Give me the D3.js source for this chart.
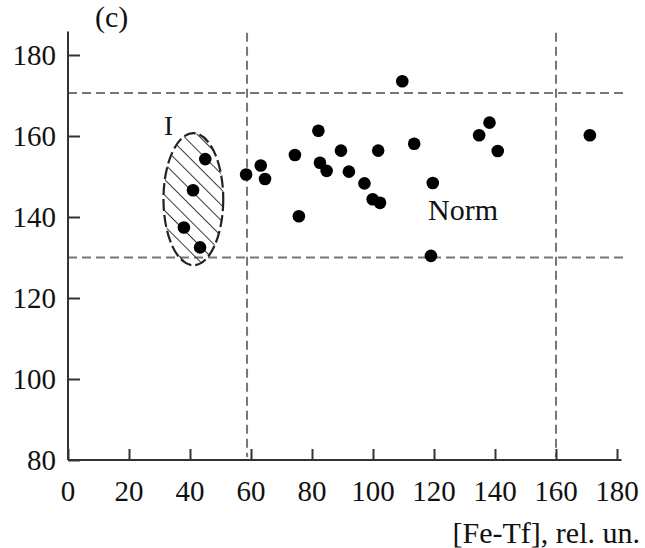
<!DOCTYPE html>
<html>
<head>
<meta charset="utf-8">
<script src="https://cdn.jsdelivr.net/npm/d3@7"></script>
<style>
  body { margin: 0; background: #fff; }
  svg text { font-family: "Liberation Serif", "Times New Roman", serif; fill: #111; }
</style>
</head>
<body>
<div id="plot"></div>
<script>
// Points: [Fe-Tf] (x) vs second parameter (y)
const feTf = [45, 41, 38, 43.3, 58.4, 63.2, 64.6, 74.4, 75.7, 82.1, 82.6, 84.8,
              89.5, 92.1, 97.2, 99.9, 102.3, 101.7, 109.6, 113.5, 119.6, 119, 134.8, 138.2, 140.9, 171.1];
const yVals = [154.3, 146.6, 137.4, 132.5, 150.5, 152.7, 149.4, 155.3, 140.2, 161.3, 153.4, 151.4,
               156.4, 151.2, 148.3, 144.4, 143.5, 156.4, 173.5, 158.1, 148.4, 130.4, 160.2, 163.3, 156.3, 160.2];

const xTicks = [0, 20, 40, 60, 80, 100, 120, 140, 160, 180];
const yTicks = [80, 100, 120, 140, 160, 180];

// norm boundaries (dashed lines)
const normX = [58.7, 160];
const normY = [130, 170.6];

// group I ellipse: centre and radii in data units
const groupI = { cx: 41.1, cy: 144.4, rx: 9.8, ry: 16.3 };

const width = 645, height = 548;
const x0 = 68, x1 = 617;   // pixel of 0 and 180
const y0 = 460, y1 = 55;   // pixel of 80 and 180

const x = d3.scaleLinear().domain([0, 180]).range([x0, x1]);
const y = d3.scaleLinear().domain([80, 180]).range([y0, y1]);

const svg = d3.select("#plot").append("svg")
    .attr("width", width)
    .attr("height", height);

// hatch pattern for ellipse
const defs = svg.append("defs");
const pat = defs.append("pattern")
    .attr("id", "hatch")
    .attr("patternUnits", "userSpaceOnUse")
    .attr("width", 11)
    .attr("height", 11)
    .attr("patternTransform", "rotate(-45)");
pat.append("line")
    .attr("x1", 0).attr("y1", 0).attr("x2", 0).attr("y2", 11)
    .attr("stroke", "#222").attr("stroke-width", 1.8);

// dashed norm lines
svg.selectAll("line.vnorm")
    .data(normX)
    .enter().append("line")
    .attr("x1", d => x(d)).attr("x2", d => x(d))
    .attr("y1", y(185.5)).attr("y2", y(80) - 3)
    .attr("stroke", "#777").attr("stroke-width", 2)
    .attr("stroke-dasharray", "9,5");

svg.selectAll("line.hnorm")
    .data(normY)
    .enter().append("line")
    .attr("x1", x(0)).attr("x2", x(183))
    .attr("y1", d => y(d)).attr("y2", d => y(d))
    .attr("stroke", "#777").attr("stroke-width", 2)
    .attr("stroke-dasharray", "9,5");

// ellipse I
svg.append("ellipse")
    .attr("cx", x(groupI.cx))
    .attr("cy", y(groupI.cy))
    .attr("rx", x(groupI.cx + groupI.rx) - x(groupI.cx))
    .attr("ry", y(groupI.cy - groupI.ry) - y(groupI.cy))
    .attr("fill", "url(#hatch)")
    .attr("stroke", "#222")
    .attr("stroke-width", 2.2)
    .attr("stroke-dasharray", "12,4");

// axes
const xAxis = d3.axisTop(x).tickValues(xTicks).tickSize(11).tickFormat("");
const yAxis = d3.axisRight(y).tickValues(yTicks).tickSize(12).tickFormat("");

const gx = svg.append("g").attr("transform", `translate(0,${y0})`).call(xAxis);
gx.select(".domain").attr("d", `M${x0},0H${x(181.5)}`);
const gy = svg.append("g").attr("transform", `translate(${x0},0)`).call(yAxis);
gy.select(".domain").attr("d", `M0,${y(185.8)}V${y0}`);
[gx, gy].forEach(g => {
    g.selectAll("path, line").attr("stroke", "#333").attr("stroke-width", 2);
});

// tick labels
svg.selectAll("text.xt")
    .data(xTicks)
    .enter().append("text")
    .attr("x", d => x(d))
    .attr("y", 501)
    .attr("text-anchor", "middle")
    .attr("font-size", 29)
    .text(d => d);

svg.selectAll("text.yt")
    .data(yTicks)
    .enter().append("text")
    .attr("x", 56)
    .attr("y", d => y(d) + 10)
    .attr("text-anchor", "end")
    .attr("font-size", 29)
    .text(d => d);

// points
svg.selectAll("circle.pt")
    .data(feTf.map((v, i) => [v, yVals[i]]))
    .enter().append("circle")
    .attr("cx", d => x(d[0]))
    .attr("cy", d => y(d[1]))
    .attr("r", 6.3)
    .attr("fill", "#000");

// labels
svg.append("text").attr("x", 95).attr("y", 27).attr("font-size", 30).text("(c)");
svg.append("text").attr("x", 164).attr("y", 135).attr("font-size", 27).text("I");
svg.append("text").attr("x", 428).attr("y", 220).attr("font-size", 30).text("Norm");
svg.append("text").attr("x", 640).attr("y", 543).attr("text-anchor", "end")
    .attr("font-size", 30).text("[Fe-Tf], rel. un.");
</script>
</body>
</html>
